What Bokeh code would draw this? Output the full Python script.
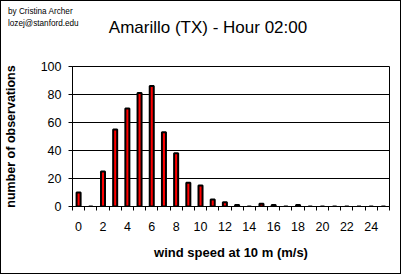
from bokeh.plotting import figure
from bokeh.models import FixedTicker, ColumnDataSource, Range1d
from bokeh.models.dom import Div as DomDiv, Styles
from bokeh.embed import file_html
from bokeh.resources import INLINE

speeds = list(range(26))
counts = [10, 0, 25, 55, 70, 81, 86, 53, 38, 17, 15, 5, 3, 1, 0, 2, 1, 0, 1, 0, 0, 0, 0, 0, 0, 0]
x_tick_labels = [0, 2, 4, 6, 8, 10, 12, 14, 16, 18, 20, 22, 24]
y_ticks = [0, 20, 40, 60, 80, 100]
title_text = "Amarillo (TX) - Hour 02:00"
author_lines = ["by Cristina Archer", "lozej@stanford.edu"]
x_label = "wind speed at 10 m (m/s)"
y_label = "number of observations"

FONT = "Liberation Sans"

p = figure(width=403, height=276, output_backend="svg", toolbar_location=None,
           title_location=None,
           x_range=Range1d(-0.5, 25.5), y_range=Range1d(0, 100),
           min_border_left=72, min_border_right=14, min_border_top=66, min_border_bottom=70)
p.background_fill_color = "white"
p.border_fill_color = "white"
p.outline_line_color = "black"
p.outline_line_width = 1

src = ColumnDataSource(dict(x=speeds, y=counts))
p.vbar(x="x", top="y", width=0.33, source=src, fill_color="#FF0000", line_color="black", line_width=2)

# x axis
p.xaxis.ticker = FixedTicker(ticks=x_tick_labels, minor_ticks=[i - 0.5 for i in range(27)])
p.xaxis.major_tick_out = 0
p.xaxis.major_tick_in = 0
p.xaxis.minor_tick_out = 4
p.xaxis.minor_tick_in = 0
p.xaxis.minor_tick_line_color = "black"
p.xaxis.axis_line_color = "black"
p.xaxis.major_label_standoff = 11
p.xaxis.major_label_text_font = FONT
p.xaxis.major_label_text_font_size = "12.5px"
p.xaxis.major_label_text_color = "black"
p.xaxis.axis_label = x_label
p.xaxis.axis_label_text_font = FONT
p.xaxis.axis_label_text_font_size = "13px"
p.xaxis.axis_label_text_font_style = "bold"
p.xaxis.axis_label_text_color = "black"
p.xaxis.axis_label_standoff = 11

# y axis
p.yaxis.ticker = FixedTicker(ticks=y_ticks)
p.yaxis.major_tick_out = 4
p.yaxis.major_tick_in = 0
p.yaxis.minor_tick_out = 0
p.yaxis.minor_tick_in = 0
p.yaxis.major_tick_line_color = "black"
p.yaxis.axis_line_color = "black"
p.yaxis.major_label_standoff = 7
p.yaxis.major_label_text_font = FONT
p.yaxis.major_label_text_font_size = "12.5px"
p.yaxis.major_label_text_color = "black"
p.yaxis.axis_label = y_label
p.yaxis.axis_label_text_font = FONT
p.yaxis.axis_label_text_font_size = "12.5px"
p.yaxis.axis_label_text_font_style = "bold"
p.yaxis.axis_label_text_color = "black"
p.yaxis.axis_label_standoff = 20

p.xgrid.visible = False
p.ygrid.ticker = FixedTicker(ticks=y_ticks)
p.ygrid.grid_line_color = "black"
p.ygrid.grid_line_width = 1

# title, author credit (top-left) and outer frame of the chart
title = DomDiv(style=Styles(position="absolute", left="8px", top="18px", width="400px", text_align="center",
                            font_family=FONT, font_size="17px", line_height="20px", color="black",
                            white_space="nowrap"),
               children=[title_text])
line_style = dict(font_family=FONT, font_size="8.2px", line_height="12px", color="black", white_space="nowrap")
author = DomDiv(style=Styles(position="absolute", left="8px", top="6px", **line_style),
                children=[DomDiv(children=[author_lines[0]]), DomDiv(children=[author_lines[1]])])
border = DomDiv(style=Styles(position="absolute", left="0px", top="0px", width="401px", height="274px",
                             border="1px solid black", pointer_events="none"))
p.elements = [title, author, border]

open("out.html", "w").write(file_html(p, INLINE))
